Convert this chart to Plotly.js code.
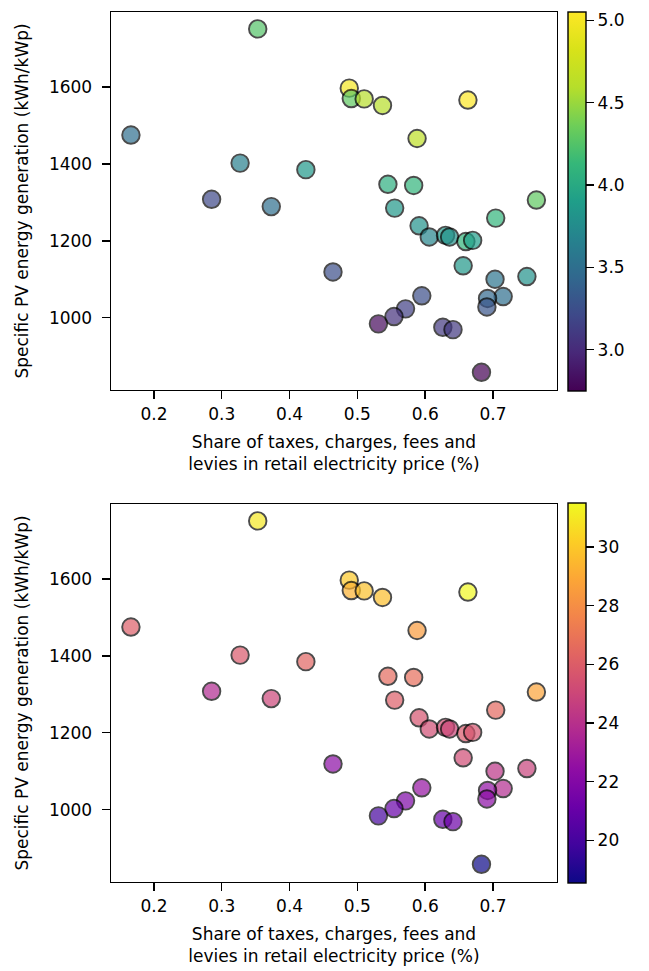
<!DOCTYPE html>
<html>
<head>
<meta charset="utf-8">
<script src="https://cdn.plot.ly/plotly-3.0.1.min.js"></script>
<style>html,body{margin:0;padding:0;background:#fff;}#chart{width:649px;height:971px;}</style>
</head>
<body>
<div id="chart"></div>
<script>
// Share of taxes, charges, fees and levies in retail electricity price
const taxShare = [0.353, 0.488, 0.491, 0.510, 0.537, 0.663, 0.588, 0.166, 0.327, 0.424,
                  0.545, 0.583, 0.764, 0.285, 0.373, 0.555, 0.704, 0.591, 0.606, 0.630,
                  0.636, 0.660, 0.670, 0.656, 0.703, 0.750, 0.715, 0.692, 0.691, 0.464,
                  0.595, 0.571, 0.554, 0.531, 0.626, 0.641, 0.683];
// Specific PV energy generation (kWh/kWp)
const pvGeneration = [1751, 1597, 1570, 1569, 1552, 1566, 1466, 1475, 1402, 1385,
                      1347, 1344, 1306, 1308, 1289, 1285, 1259, 1239, 1210, 1214,
                      1210, 1198, 1201, 1135, 1100, 1107, 1055, 1050, 1028, 1119,
                      1057, 1023, 1003, 984, 975, 969, 858];
// Colour variable of the top panel (viridis)
const colorTop = [4.25, 5.00, 4.30, 4.60, 4.60, 5.05, 4.65, 3.50, 3.65, 3.85,
                  4.05, 4.10, 4.30, 3.20, 3.50, 3.85, 4.10, 3.80, 3.70, 3.85,
                  3.80, 4.10, 3.90, 3.85, 3.55, 3.80, 3.50, 3.45, 3.30, 3.25,
                  3.25, 3.15, 3.05, 2.80, 3.10, 3.10, 2.75];
// Colour variable of the bottom panel (plasma)
const colorBottom = [31.0, 30.0, 29.3, 29.8, 29.7, 31.5, 28.5, 26.0, 25.8, 26.3,
                     26.6, 26.7, 28.8, 23.7, 25.0, 26.0, 26.5, 25.6, 25.3, 25.3,
                     25.0, 25.8, 25.6, 25.2, 24.2, 24.8, 23.8, 22.5, 22.3, 22.3,
                     22.6, 21.8, 21.0, 20.0, 21.0, 21.2, 18.55];
const xTicks = [0.2, 0.3, 0.4, 0.5, 0.6, 0.7];
const xTickText = ['0.2', '0.3', '0.4', '0.5', '0.6', '0.7'];
const yTicks = [1000, 1200, 1400, 1600];
const yTickText = ['1000', '1200', '1400', '1600'];
const cbTopTicks = [3.0, 3.5, 4.0, 4.5, 5.0];
const cbTopText = ['3.0', '3.5', '4.0', '4.5', '5.0'];
const cbBottomTicks = [20, 22, 24, 26, 28, 30];
const cbBottomText = ['20', '22', '24', '26', '28', '30'];
const xTitle = 'Share of taxes, charges, fees and<br>levies in retail electricity price (%)';
const yTitle = 'Specific PV energy generation (kWh/kWp)';

const viridis = [[0,'#440154'],[0.1,'#482878'],[0.2,'#3e4989'],[0.3,'#31688e'],[0.4,'#26828e'],
                 [0.5,'#1f9e89'],[0.6,'#35b779'],[0.7,'#6ece58'],[0.8,'#b5de2b'],[0.9,'#d8e219'],[1,'#fde725']];
const plasma = [[0,'#0d0887'],[0.1,'#41049d'],[0.2,'#6a00a8'],[0.3,'#8f0da4'],[0.4,'#b12a90'],
                [0.5,'#cc4778'],[0.6,'#e16462'],[0.7,'#f2844b'],[0.8,'#fca636'],[0.9,'#fcce25'],[1,'#f0f921']];

const W = 649, H = 971;
const FONT = {family: 'DejaVu Sans, sans-serif', size: 17, color: '#000'};
const px = v => v / W;
const py = v => 1 - v / H;

function cb(ypTop, ypBot, vals, text) {
  return {
    x: px(568), xanchor: 'left', xref: 'paper',
    y: (py(ypTop) + py(ypBot)) / 2, yanchor: 'middle',
    len: (ypBot - ypTop) / H, lenmode: 'fraction',
    thickness: 18, thicknessmode: 'pixels',
    outlinewidth: 1.4, outlinecolor: '#000',
    ticks: 'outside', ticklen: 8, tickwidth: 1.4, tickcolor: '#000',
    tickvals: vals, ticktext: text, tickfont: FONT,
    xpad: 0, ypad: 0, bgcolor: 'rgba(0,0,0,0)'
  };
}

const markerBase = {size: 17.5, opacity: 0.7, line: {color: '#000', width: 1.9}};

const traces = [
  {
    type: 'scatter', mode: 'markers', x: taxShare, y: pvGeneration, xaxis: 'x', yaxis: 'y',
    marker: Object.assign({}, markerBase, {color: colorTop, colorscale: viridis, cmin: 2.75, cmax: 5.05,
      showscale: true, colorbar: cb(12, 391, cbTopTicks, cbTopText)}),
    hoverinfo: 'x+y', showlegend: false
  },
  {
    type: 'scatter', mode: 'markers', x: taxShare, y: pvGeneration, xaxis: 'x2', yaxis: 'y2',
    marker: Object.assign({}, markerBase, {color: colorBottom, colorscale: plasma, cmin: 18.55, cmax: 31.5,
      showscale: true, colorbar: cb(503, 883, cbBottomTicks, cbBottomText)}),
    hoverinfo: 'x+y', showlegend: false
  }
];

function xax(anchor) {
  return {
    domain: [px(111), px(557)], anchor: anchor, range: [0.1366, 0.7944],
    tickvals: xTicks, ticktext: xTickText, tickfont: FONT,
    ticks: 'outside', ticklen: 8, tickwidth: 1.4, tickcolor: '#000',
    showline: true, linecolor: '#000', linewidth: 1.4, mirror: true,
    showgrid: false, zeroline: false,
    title: {text: xTitle, font: FONT, standoff: 13}
  };
}
function yax(anchor, top, bot) {
  return {
    domain: [py(bot), py(top)], anchor: anchor, range: [812, 1795],
    tickvals: yTicks, ticktext: yTickText, tickfont: FONT,
    ticks: 'outside', ticklen: 8, tickwidth: 1.4, tickcolor: '#000',
    ticklabelstandoff: 6,
    showline: true, linecolor: '#000', linewidth: 1.4, mirror: true,
    showgrid: false, zeroline: false,
    title: {text: yTitle, font: FONT, standoff: 16}
  };
}

const layout = {
  width: W, height: H,
  margin: {l: 0, r: 0, t: 0, b: 0},
  paper_bgcolor: '#fff', plot_bgcolor: '#fff',
  font: FONT, showlegend: false,
  xaxis: xax('y'),
  yaxis: yax('x', 12, 390),
  xaxis2: xax('y2'),
  yaxis2: yax('x2', 504, 882)
};

Plotly.newPlot('chart', traces, layout, {displayModeBar: false, staticPlot: true});
</script>
</body>
</html>
